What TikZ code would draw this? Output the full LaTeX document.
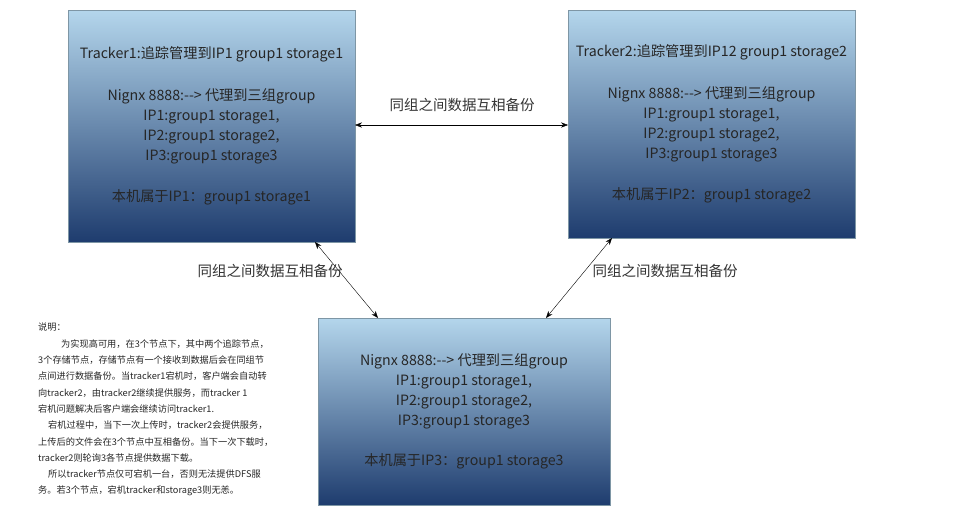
\documentclass[tikz,border=0pt]{standalone}
\usepackage{fontspec}
\setmainfont{Noto Sans CJK SC}
\usetikzlibrary{arrows.meta}
\definecolor{boxtop}{RGB}{180,214,236}
\definecolor{boxbottom}{RGB}{30,60,110}
\begin{document}
\begin{tikzpicture}[x=1pt, y=-1pt,
  server/.style={draw=boxtop!70!black, top color=boxtop, bottom color=boxbottom, align=center, inner sep=0pt, font=\fontsize{14.2}{20}\selectfont, text=black!85},
  backup/.style={font=\fontsize{14.5}{15}\selectfont, text=black!80},
  sync/.style={{Stealth[length=7pt]}-{Stealth[length=7pt]}, thin}]
\useasboundingbox (0,0) rectangle (958,517);

% Storage nodes
\node[server, minimum width=287pt, minimum height=232pt] (b1) at (211.5,126) {Tracker1:追踪管理到IP1 group1 storage1\\[22pt]Nignx 8888:-{}-> 代理到三组group\\IP1:group1 storage1,\\IP2:group1 storage2,\\IP3:group1 storage3\\[21pt]本机属于IP1：group1 storage1};
\node[server, minimum width=287pt, minimum height=228pt] (b2) at (711.5,124) {Tracker2:追踪管理到IP12 group1 storage2\\[22pt]Nignx 8888:-{}-> 代理到三组group\\IP1:group1 storage1,\\IP2:group1 storage2,\\IP3:group1 storage3\\[21pt]本机属于IP2：group1 storage2};
\node[server, minimum width=292pt, minimum height=187pt] (b3) at (464,411.5) {Nignx 8888:-{}-> 代理到三组group\\IP1:group1 storage1,\\IP2:group1 storage2,\\IP3:group1 storage3\\[20pt]本机属于IP3：group1 storage3};

% Connector ends
\coordinate (b1r) at (355,125);
\coordinate (b2l) at (568,125);
\coordinate (b1d) at (315,242);
\coordinate (b2d) at (612,238);
\coordinate (b3l) at (378,318);
\coordinate (b3r) at (546,318);

\draw[sync] (b1r) -- (b2l);
\draw[sync] (b1d) -- (b3l);
\draw[sync] (b2d) -- (b3r);

\node[backup] (l12) at (462,105) {同组之间数据互相备份};
\node[backup] (l13) at (270,271) {同组之间数据互相备份};
\node[backup] (l23) at (665,271) {同组之间数据互相备份};

% Notes
\node[anchor=north west, align=left, inner sep=0pt, font=\fontsize{9.2}{16.3}\selectfont, text=black!85] (notes) at (38,323) {说明：\\
\hspace*{23pt}为实现高可用，在3个节点下，其中两个追踪节点，\\
3个存储节点，存储节点有一个接收到数据后会在同组节\\
点间进行数据备份。当tracker1宕机时，客户端会自动转\\
向tracker2，由tracker2继续提供服务，而tracker 1\\
宕机问题解决后客户端会继续访问tracker1.\\
\hspace*{10pt}宕机过程中，当下一次上传时，tracker2会提供服务，\\
上传后的文件会在3个节点中互相备份。当下一次下载时，\\
tracker2则轮询3各节点提供数据下载。\\
\hspace*{10pt}所以tracker节点仅可宕机一台，否则无法提供DFS服\\
务。若3个节点，宕机tracker和storage3则无恙。};
\end{tikzpicture}
\end{document}
